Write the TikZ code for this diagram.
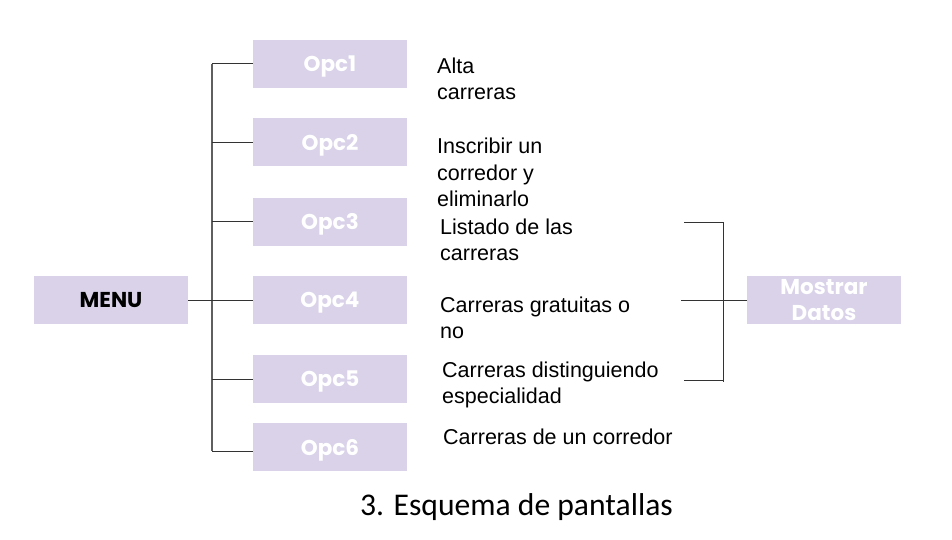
\documentclass[tikz,border=0pt]{standalone}
\usepackage{fontspec}
\setmainfont{Liberation Sans}
\newfontfamily\boxfont{Poppins}
\newfontfamily\captionfont{Carlito}
\usetikzlibrary{calc}
\definecolor{lavanda}{HTML}{D9D2E9}
\definecolor{tronco}{HTML}{5F5F5F}
\definecolor{rama}{HTML}{333333}

\begin{document}
\begin{tikzpicture}[x=1pt,y=-1pt,
  opcbox/.style={fill=lavanda,minimum width=154pt,minimum height=48pt,inner sep=0pt,
    text=white,text depth=0pt,align=center,font=\boxfont\bfseries\fontsize{21.5}{26}\selectfont},
  desc/.style={anchor=base west,inner sep=0pt,align=left,font=\fontsize{21.5}{26}\selectfont},
  ramaline/.style={draw=rama,line width=1pt},
  troncoline/.style={draw=tronco,line width=1.5pt}]
  \useasboundingbox (0,0) rectangle (952,540);
  % cajas
  \node[opcbox,text=black] (menu) at (111,300) {MENU};
  \node[opcbox] (o1) at (330,64) {Opc1};
  \node[opcbox] (o2) at (330,142.5) {Opc2};
  \node[opcbox] (o3) at (330,221.5) {Opc3};
  \node[opcbox] (o4) at (330,300) {Opc4};
  \node[opcbox] (o5) at (330,379) {Opc5};
  \node[opcbox] (o6) at (330,447) {Opc6};
  \node[opcbox] (datos) at (824,300) {Mostrar\\Datos};
  % textos (base = ultima linea)
  \node[desc] (t1) at (437,100) {Alta\\carreras};
  \node[desc] (t2) at (437,206) {Inscribir un\\corredor y\\eliminarlo};
  \node[desc] (t3) at (440,260) {Listado de las\\carreras};
  \node[desc] (t4) at (440,338) {Carreras gratuitas o\\no};
  \node[desc] (t5) at (442,403) {Carreras distinguiendo\\especialidad};
  \node[desc] (t6) at (443,444) {Carreras de un corredor};
  \node[anchor=base west,inner sep=0pt,font=\captionfont\fontsize{31.6}{37}\selectfont] (titulo) at (360,515) {3. Esquema de pantallas};
  % arbol
  \coordinate (tr) at (212,0);
  \draw[troncoline] (tr |- o1.west) -- ($(tr |- o6.west)+(0,4)$);
  \draw[ramaline] (menu.east) -- (o4.west);
  \foreach \i in {1,...,5}
    \draw[ramaline] (tr |- o\i.west) -- (o\i.west);
  \draw[ramaline] ($(tr |- o6.west)+(0,4)$) -- ($(o6.west)+(0,4)$);
  % corchete
  \coordinate (bx) at (723,0);
  \coordinate (bt) at (684,222);
  \coordinate (bm) at (681,300);
  \coordinate (bb) at (684,380);
  \draw[ramaline] (bt) -- (bt -| bx) -- ($(bb -| bx)+(0,2)$);
  \draw[ramaline] (bb) -- (bb -| bx);
  \draw[ramaline] (bm) -- (datos.west);
\end{tikzpicture}
\end{document}
